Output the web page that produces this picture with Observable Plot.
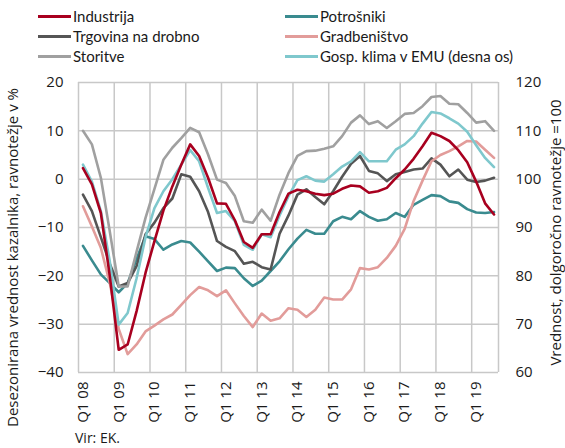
<!DOCTYPE html>
<html>
<head>
<meta charset="utf-8">
<script src="https://cdn.jsdelivr.net/npm/d3@7"></script>
<script src="https://cdn.jsdelivr.net/npm/@observablehq/plot@0.6"></script>
<style>
  html, body { margin: 0; padding: 0; background: #fff; }
  #wrap { width: 565px; height: 448px; position: relative; font-family: "Open Sans", sans-serif; color: #1a1a1a; }
  .legend { display: grid; grid-template-columns: 247px auto; grid-auto-rows: 20px; padding: 6px 0 0 38px; height: 62px; box-sizing: content-box; font-family: Lato, sans-serif; font-size: 15px; }
  .legend .item { display: flex; align-items: center; white-space: nowrap; }
  .legend .sw { width: 33px; height: 3px; margin-right: 2px; }
  .caption { font-size: 14px; padding-left: 75px; line-height: 16px; }
  svg { overflow: visible; }
</style>
</head>
<body>
<div id="wrap">
  <div class="legend" id="legend"></div>
  <div id="chart"></div>
  <div class="caption">Vir: EK.</div>
</div>
<script>
const quarters = [
  "Q1 08","Q2 08","Q3 08","Q4 08","Q1 09","Q2 09","Q3 09","Q4 09",
  "Q1 10","Q2 10","Q3 10","Q4 10","Q1 11","Q2 11","Q3 11","Q4 11",
  "Q1 12","Q2 12","Q3 12","Q4 12","Q1 13","Q2 13","Q3 13","Q4 13",
  "Q1 14","Q2 14","Q3 14","Q4 14","Q1 15","Q2 15","Q3 15","Q4 15",
  "Q1 16","Q2 16","Q3 16","Q4 16","Q1 17","Q2 17","Q3 17","Q4 17",
  "Q1 18","Q2 18","Q3 18","Q4 18","Q1 19","Q2 19","Q3 19"
];
const industrija = [2.3, -1.1, -7, -20, -35.3, -34.2, -27.3, -19.4, -12.8, -6.5, -1.5, 3, 7.2, 4.8, 0.3, -5, -5.1, -8.5, -13, -14.2, -11.4, -11.4, -6.8, -3, -2.2, -2.5, -3, -3.3, -3, -2, -1.3, -1.5, -2.8, -2.5, -1.8, 0.2, 2, 4.2, 6.8, 9.6, 8.9, 7.9, 6, 3.5, -0.5, -5, -7.3];
const trgovina = [-3.2, -6.6, -12, -17.5, -22.2, -21.5, -18, -11.4, -9, -6, -4, 1, 0.5, -2.5, -6.8, -12.8, -14, -14.9, -17.5, -17.1, -18.2, -18.7, -11.3, -7.5, -3.2, -2.1, -3.7, -5.2, -2.5, 0.5, 3.2, 4.8, 1.7, 1.2, -0.4, 1, 1.5, 2, 2.2, 4.3, 3, 0.6, 2, -0.1, -0.6, -0.3, 0.3];
const storitve = [10, 7.2, 0.3, -10.8, -22.2, -22.2, -15, -8, -2, 4, 6.5, 8.5, 10.6, 9.7, 5.1, -0.1, -0.8, -3.5, -8.7, -9, -6.3, -8.6, -3.2, 1.3, 4.8, 5.8, 5.9, 6.3, 6.8, 8.9, 11.7, 13.2, 11.4, 12, 10.6, 12, 13.5, 13.7, 15.1, 17, 17.2, 15.6, 15.5, 13.7, 11.7, 12, 10];
const potrosniki = [-13.8, -16.8, -19.7, -21.5, -23.4, -21.5, -16.5, -11.8, -12.4, -14.6, -13.5, -12.8, -13.1, -15, -17, -19, -18.3, -18.4, -20.5, -22.1, -21, -19, -17, -14.5, -12.3, -10.5, -11.3, -11.3, -8.7, -7.8, -8.3, -6.6, -7.8, -8.6, -8.3, -7, -7.8, -5.3, -4.3, -3.3, -3.5, -4.6, -4.9, -6.2, -6.9, -7, -6.8];
const gradbenistvo = [-5.6, -9.8, -14.2, -21.5, -31, -36.2, -34.2, -31.5, -30.3, -29, -28, -26, -24, -22.3, -23, -24.2, -23, -25.7, -28.3, -30.6, -27.8, -29.3, -28.8, -26.7, -27, -28.5, -27, -24.5, -24.9, -24.9, -22.8, -18.4, -18.7, -18.2, -16.3, -13.8, -10.3, -4.5, -0.3, 3.7, 5, 5.8, 6.8, 7.9, 7.8, 6.1, 4.4];
// right axis (long-term average = 100)
const klimaEMU = [103, 99.5, 93.4, 83, 69.9, 72.3, 79.5, 88, 94, 97.5, 100, 103, 106, 103.7, 98.2, 93, 93.4, 91.3, 86.4, 85.4, 88.6, 88, 92.5, 96.5, 99.8, 100.6, 99.7, 99.5, 101, 102.6, 103.7, 105.6, 103.7, 103.7, 103.7, 106.1, 107.2, 108.9, 111.5, 113.9, 113.6, 112.6, 111.5, 109.8, 107, 104.4, 102.5];

const leftTicks = [-40, -30, -20, -10, 0, 10, 20];
const rightOffset = 100; // right axis value = left value + 100

const series = [
  {name: "Industrija", color: "#a8001f", values: industrija, right: false},
  {name: "Potrošniki", color: "#3a8b8f", values: potrosniki, right: false},
  {name: "Trgovina na drobno", color: "#555555", values: trgovina, right: false},
  {name: "Gradbeništvo", color: "#e29c9a", values: gradbenistvo, right: false},
  {name: "Storitve", color: "#a0a0a0", values: storitve, right: false},
  {name: "Gosp. klima v EMU (desna os)", color: "#7fc8cd", values: klimaEMU, right: true}
];
const drawOrder = ["Potrošniki", "Trgovina na drobno", "Storitve", "Gradbeništvo", "Gosp. klima v EMU (desna os)", "Industrija"];

// legend
const legend = document.getElementById("legend");
for (const s of series) {
  const it = document.createElement("div");
  it.className = "item";
  it.innerHTML = `<span class="sw" style="background:${s.color}"></span><span>${s.name}</span>`;
  legend.appendChild(it);
}

const q1Index = quarters.map((q, i) => q.startsWith("Q1") ? i : null).filter(i => i !== null);
const boundaries = q1Index.map(i => i - 0.5).concat([quarters.length - 0.5]);

const lineMarks = drawOrder.map(n => {
  const s = series.find(d => d.name === n);
  return Plot.line(s.values, {
    x: (d, i) => i,
    y: d => s.right ? d - rightOffset : d,
    stroke: s.color,
    strokeWidth: 2.6,
    strokeLinejoin: "round"
  });
});

const chart = Plot.plot({
  width: 565,
  height: 362,
  marginLeft: 78,
  marginRight: 67,
  marginTop: 14,
  marginBottom: 58,
  style: {fontFamily: "'Open Sans', sans-serif", fontSize: "15px", color: "#1a1a1a", background: "transparent"},
  x: {type: "linear", domain: [-0.5, quarters.length - 0.5]},
  y: {domain: [-40, 20]},
  marks: [
    Plot.ruleY(leftTicks, {stroke: "#c8c8c8", strokeWidth: 1.5}),
    Plot.ruleX(boundaries, {stroke: "#c8c8c8", strokeWidth: 1.5}),
    ...lineMarks,
    Plot.axisX({ticks: q1Index, tickFormat: i => quarters[i], tickRotate: -90, tickSize: 0, tickPadding: 9, label: null, fontSize: 15}),
    Plot.axisY({anchor: "left", ticks: leftTicks, tickSize: 0, tickPadding: 15, label: null, fontSize: 15}),
    Plot.axisY({anchor: "right", ticks: leftTicks, tickFormat: d => d + rightOffset, tickSize: 0, tickPadding: 17, label: null, fontSize: 15}),
    Plot.text(["Desezonirana vrednost kazalnika, ravnotežje v %"], {frameAnchor: "left", textAnchor: "middle", rotate: -90, dx: -65, dy: 30, fontSize: 15}),
    Plot.text(["Vrednost, dolgoročno ravnotežje =100"], {frameAnchor: "right", textAnchor: "middle", rotate: -90, dx: 58, dy: 5, fontSize: 15})
  ]
});
document.getElementById("chart").appendChild(chart);
</script>
</body>
</html>
